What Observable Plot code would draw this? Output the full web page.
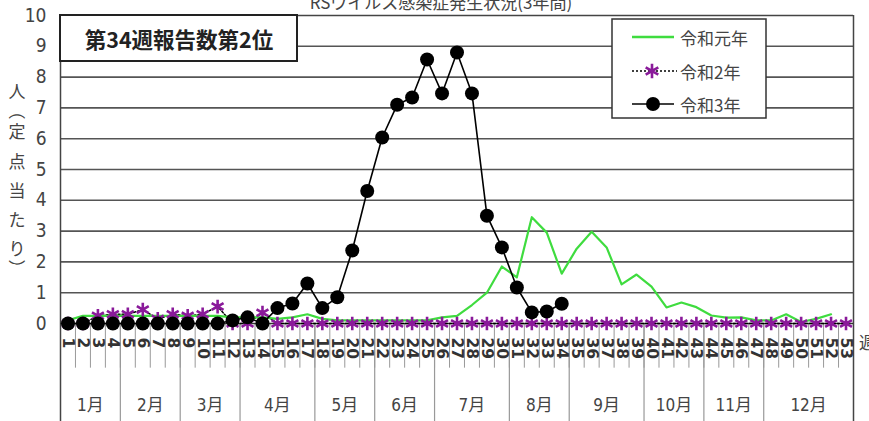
<!DOCTYPE html>
<html><head><meta charset="utf-8">
<script src="https://cdn.jsdelivr.net/npm/d3@7"></script>
<script src="https://cdn.jsdelivr.net/npm/@observablehq/plot@0.6"></script>
<style>
body{margin:0;background:#fff;overflow:hidden}
#chart{position:relative;width:869px;height:421px}
</style>
</head><body><div id="chart"></div>
<script>
// ---- data ----
const weeks = d3.range(1, 54);
const reiwa1 = [0.1,0.25,0.25,0.25,0.25,0.25,0.25,0.25,0.25,0.25,0.25,0.2,0.2,0.2,0.15,0.2,0.3,0.15,0.1,0.1,0.1,0.1,0.1,0.1,0.1,0.2,0.25,0.6,1.0,1.85,1.5,3.45,2.95,1.62,2.43,2.98,2.47,1.27,1.59,1.2,0.52,0.68,0.53,0.26,0.19,0.2,0.1,0.1,0.3,0.05,0.15,0.3];
const reiwa2 = [0,0,0.25,0.3,0.3,0.45,0.15,0.3,0.25,0.3,0.55,0,0,0.35,0,0,0,0,0,0,0,0,0,0,0,0,0,0,0,0,0,0,0,0,0,0,0,0,0,0,0,0,0,0,0,0,0,0,0,0,0,0,0];
const reiwa3 = [0,0,0,0,0,0,0,0,0,0,0,0.1,0.2,0,0.5,0.65,1.3,0.5,0.85,2.37,4.3,6.04,7.1,7.34,8.57,7.47,8.8,7.47,3.5,2.47,1.17,0.36,0.39,0.64];
const monthLabels = ["1月","2月","3月","4月","5月","6月","7月","8月","9月","10月","11月","12月"];
const monthStartWeeks = [1,5,9,13,18,22,26,31,35,40,44,48];
const yTicks = d3.range(0, 11);
const seriesNames = ["令和元年","令和2年","令和3年"];
const titleText = "RSウイルス感染症発生状況(3年間)";
const noteText = "第34週報告数第2位";
const yLabelChars = ["人","（","定","点","当","た","り","）"];

// ---- derived tables ----
const d1 = reiwa1.map((v, i) => ({week: i + 1, value: v}));
const d2 = reiwa2.map((v, i) => ({week: i + 1, value: v}));
const d3s = reiwa3.map((v, i) => ({week: i + 1, value: v}));
const monthBounds = [...monthStartWeeks.map(w => w - 0.5), 53.5];
const monthCenters = monthLabels.map((m, i) => ({label: m, x: (monthBounds[i] + monthBounds[i + 1]) / 2}));

const GREEN = "#3fdc3f", PURPLE = "#8a1a9a";
const narrow = "'Liberation Sans Narrow','DejaVu Sans Condensed','Noto Sans CJK JP',sans-serif";
const cjk = "'Noto Sans CJK JP','Noto Sans',sans-serif";

const plot = Plot.plot({
  width: 869, height: 421,
  marginLeft: 60, marginRight: 16, marginTop: 15, marginBottom: 98,
  x: {domain: [0.5, 53.5], axis: null},
  y: {domain: [0, 10], axis: null},
  style: {background: "#fff", overflow: "visible"},
  marks: [
    Plot.ruleY(d3.range(1, 10), {stroke: "#555", strokeWidth: 1.6}),
    Plot.ruleX(d3.range(1, 53).map(w => w + 0.5), {y1: 0, y2: -1.45, stroke: "#999", strokeWidth: 1}),
    Plot.ruleX(monthBounds.slice(1, -1), {y1: 0, y2: -3.3, stroke: "#999", strokeWidth: 1.2}),
    Plot.ruleX([0.5, 53.5], {y1: 10, y2: -3.3, stroke: "#444", strokeWidth: 1.5}),
    Plot.ruleY([10], {stroke: "#444", strokeWidth: 1.5}),
    Plot.ruleY([0], {stroke: "#333", strokeWidth: 1.5}),
    Plot.text(yTicks, {x: 0.5, y: d => d, text: d => String(d), dx: -14, textAnchor: "end", fontSize: 19, fontFamily: narrow, fill: "#444"}),
    Plot.text(weeks, {x: d => d, y: 0, text: d => String(d), rotate: 90, textAnchor: "start", dy: 14, fontSize: 15.5, fontWeight: "bold", fontFamily: "'DejaVu Sans',sans-serif", fill: "#333"}),
    Plot.text(monthCenters, {x: "x", y: -2.65, text: "label", fontSize: 17, fontFamily: narrow, fill: "#444"}),
    Plot.line(d2, {x: "week", y: "value", stroke: "#000", strokeWidth: 1.5, strokeDasharray: "2,2"}),
    Plot.line(d1, {x: "week", y: "value", stroke: GREEN, strokeWidth: 2.2}),
    Plot.dot(d2, {x: "week", y: "value", symbol: "asterisk", r: 6.5, stroke: PURPLE, strokeWidth: 2.6}),
    Plot.line(d3s, {x: "week", y: "value", stroke: "#000", strokeWidth: 1.6}),
    Plot.dot(d3s, {x: "week", y: "value", r: 7, fill: "#000", stroke: "none"})
  ]
});

document.getElementById("chart").append(plot);
const svg = d3.select(plot);

// title (cut at top, as in the reference)
svg.append("text").attr("x", 441).attr("y", 9).attr("text-anchor", "middle")
  .attr("font-size", 17).attr("font-family", cjk).attr("fill", "#444").text(titleText);

// note box
svg.append("rect").attr("x", 60).attr("y", 15).attr("width", 237).attr("height", 46)
  .attr("fill", "#fff").attr("stroke", "#222").attr("stroke-width", 2);
svg.append("text").attr("x", 179).attr("y", 38).attr("text-anchor", "middle").attr("dominant-baseline", "central")
  .attr("font-size", 21.5).attr("font-weight", "bold").attr("font-family", cjk).attr("fill", "#222").text(noteText);

// legend
const lg = svg.append("g");
lg.append("rect").attr("x", 612).attr("y", 19).attr("width", 154).attr("height", 99)
  .attr("fill", "#fff").attr("stroke", "#333").attr("stroke-width", 1.5);
const ly = [37, 71, 104];
lg.append("line").attr("x1", 632).attr("x2", 674).attr("y1", ly[0]).attr("y2", ly[0]).attr("stroke", GREEN).attr("stroke-width", 2.5);
lg.append("line").attr("x1", 632).attr("x2", 677).attr("y1", ly[1]).attr("y2", ly[1]).attr("stroke", "#000").attr("stroke-width", 1.5).attr("stroke-dasharray", "2,2");
lg.append("path").attr("d", d3.symbol(d3.symbolAsterisk, 150)()).attr("transform", `translate(652,${ly[1]})`).attr("stroke", PURPLE).attr("stroke-width", 2.6).attr("fill", "none");
lg.append("line").attr("x1", 632).attr("x2", 674).attr("y1", ly[2]).attr("y2", ly[2]).attr("stroke", "#000").attr("stroke-width", 1.6);
lg.append("circle").attr("cx", 653).attr("cy", ly[2]).attr("r", 7).attr("fill", "#000");
seriesNames.forEach((n, i) => {
  lg.append("text").attr("x", 680).attr("y", ly[i]).attr("text-anchor", "start").attr("dominant-baseline", "central")
    .attr("font-size", 17).attr("font-family", cjk).attr("fill", "#444").text(n);
});

// y label (vertical, parentheses turned)
const yPos = [90, 111, 130, 160, 189, 218, 247, 268];
yLabelChars.forEach((c, i) => {
  const t = svg.append("text").attr("x", 0).attr("y", 0).attr("text-anchor", "middle").attr("dominant-baseline", "central")
    .attr("font-size", 17).attr("font-family", cjk).attr("fill", "#444").text(c);
  const rot = (c === "（" || c === "）") ? " rotate(90)" : "";
  t.attr("transform", `translate(17,${yPos[i]})${rot}`);
});

// x axis unit (cut at right edge)
svg.append("text").attr("x", 859).attr("y", 341).attr("text-anchor", "start").attr("dominant-baseline", "central")
  .attr("font-size", 17).attr("font-family", cjk).attr("fill", "#444").text("週");
</script>
</body></html>
